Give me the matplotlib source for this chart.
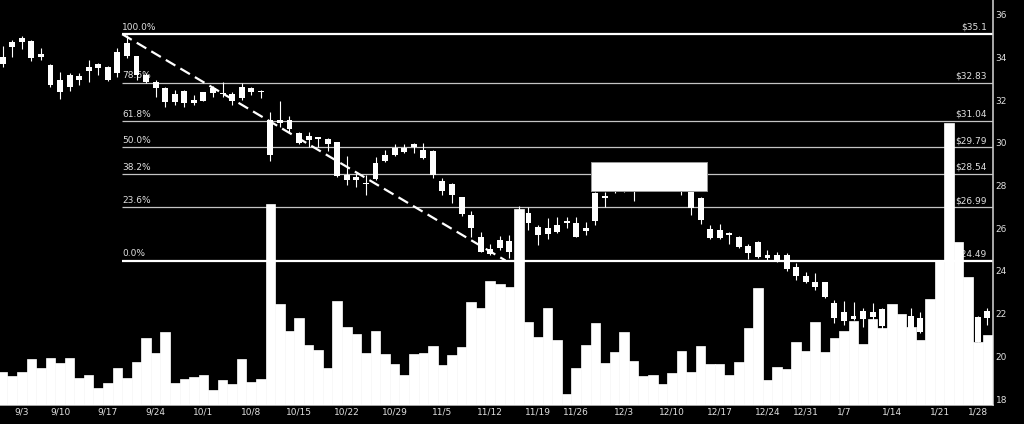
import numpy as np
import matplotlib
matplotlib.use("Agg")
import matplotlib.pyplot as plt
from matplotlib.patches import Rectangle

# ---------------- data ----------------
opens = [33.70, 34.49, 34.72, 34.78, 34.02, 33.66, 32.40, 32.64, 32.95, 33.37,
         33.50, 33.55, 33.27, 34.08, 34.08, 33.19, 32.87, 32.56, 31.91, 32.44,
         31.89, 31.97, 32.33, 32.30, 32.28, 32.10, 32.59, 32.44, 31.08, 30.92,
         30.64, 30.45, 30.14, 30.29, 30.17, 30.06, 28.50, 28.26, 28.11, 28.30,
         29.17, 29.44, 29.78, 29.80, 29.67, 29.64, 28.23, 28.08, 27.48, 26.62,
         25.58, 24.80, 25.06, 24.90, 25.30, 26.73, 26.05, 25.73, 25.84, 26.26,
         26.23, 25.87, 26.36, 27.51, 27.85, 28.30, 28.10, 28.40, 28.70, 28.50,
         28.20, 28.00, 27.75, 27.41, 25.97, 25.53, 25.77, 25.61, 25.18, 24.64,
         24.75, 24.51, 24.75, 24.17, 23.77, 23.50, 23.47, 22.51, 21.65, 21.90,
         21.73, 21.86, 22.20, 21.50, 21.90, 21.89, 21.78, 21.30, 21.60, 22.00,
         23.00, 22.40, 20.68, 21.78]
highs = [34.55, 34.83, 35.02, 34.83, 34.44, 33.69, 33.34, 33.27, 33.30, 33.89,
         33.76, 33.61, 34.44, 35.05, 34.08, 33.30, 32.95, 32.64, 32.48, 32.48,
         32.25, 32.40, 32.67, 32.85, 32.40, 32.83, 32.64, 32.48, 31.47, 31.97,
         31.27, 30.53, 30.53, 30.29, 30.22, 30.06, 29.39, 28.58, 28.50, 29.36,
         29.67, 29.95, 29.95, 30.01, 30.01, 29.67, 28.34, 28.11, 27.48, 26.83,
         25.84, 25.26, 25.64, 25.69, 27.05, 26.98, 26.16, 26.47, 26.52, 26.54,
         26.54, 26.31, 27.72, 27.72, 28.50, 28.80, 28.60, 29.00, 29.00, 28.90,
         28.60, 28.40, 28.00, 27.48, 26.16, 26.20, 25.84, 25.64, 25.26, 25.42,
         24.98, 24.90, 24.83, 24.36, 23.97, 23.89, 23.50, 22.64, 22.61, 22.56,
         22.25, 22.51, 22.25, 22.30, 21.95, 22.25, 22.09, 22.30, 23.50, 24.00,
         23.80, 23.00, 21.90, 22.28]
lows = [33.58, 34.05, 34.41, 33.86, 33.89, 32.61, 32.05, 32.44, 32.72, 32.87,
        33.19, 32.91, 33.11, 33.97, 32.95, 32.80, 32.17, 31.70, 31.78, 31.70,
        31.78, 31.97, 32.17, 32.17, 31.78, 32.02, 32.25, 32.10, 29.17, 30.76,
        30.45, 29.95, 29.83, 29.83, 29.64, 28.39, 28.03, 27.95, 27.56, 28.26,
        29.12, 29.39, 29.52, 29.52, 29.25, 28.34, 27.56, 27.17, 26.58, 25.61,
        24.88, 24.75, 24.98, 24.59, 24.49, 25.92, 25.22, 25.48, 25.79, 26.00,
        25.58, 25.69, 26.16, 26.98, 27.67, 27.69, 27.29, 27.90, 28.20, 28.00,
        27.85, 27.56, 26.62, 26.20, 25.48, 25.48, 25.26, 25.06, 24.55, 24.59,
        24.51, 24.43, 24.01, 23.58, 23.45, 23.11, 22.72, 21.57, 21.47, 21.70,
        21.36, 21.70, 21.20, 21.20, 21.30, 21.23, 21.08, 20.90, 21.00, 21.20,
        22.00, 21.30, 20.65, 21.47]
closes = [34.02, 34.72, 34.91, 33.97, 34.16, 32.72, 32.95, 33.19, 33.14, 33.58,
          33.69, 32.95, 34.28, 34.67, 33.19, 32.87, 32.56, 31.94, 32.28, 31.86,
          32.02, 32.38, 32.56, 32.33, 31.98, 32.61, 32.40, 32.39, 29.44, 31.08,
          31.08, 30.01, 30.34, 30.19, 29.95, 28.45, 28.26, 28.42, 28.06, 29.08,
          29.44, 29.78, 29.59, 29.95, 29.28, 28.50, 27.76, 27.56, 26.67, 26.03,
          24.88, 25.03, 25.45, 25.42, 26.80, 26.23, 25.69, 26.00, 26.16, 26.36,
          25.58, 26.03, 27.64, 27.43, 28.30, 28.10, 28.40, 28.70, 28.50, 28.20,
          28.00, 27.85, 26.94, 26.39, 25.53, 25.92, 25.69, 25.11, 24.83, 25.37,
          24.59, 24.75, 24.08, 23.77, 23.50, 23.26, 22.77, 21.78, 22.06, 21.73,
          22.14, 22.09, 21.40, 22.00, 21.50, 21.23, 21.12, 22.00, 22.50, 23.20,
          22.40, 21.60, 21.83, 22.12]
volume = [3.33, 2.9, 3.27, 4.6, 3.73, 4.67, 4.17, 4.67, 2.67, 3.0,
          1.67, 2.17, 3.73, 2.67, 4.27, 6.67, 5.23, 7.27, 2.17, 2.57,
          2.83, 3.0, 1.5, 2.47, 2.1, 4.6, 2.3, 2.63, 20.07, 10.07,
          7.37, 8.67, 6.0, 5.53, 3.67, 10.43, 7.83, 7.1, 5.17, 7.37,
          5.07, 4.07, 3.0, 5.07, 5.23, 5.93, 3.97, 5.0, 5.77, 10.27,
          9.67, 12.4, 12.1, 11.8, 19.6, 8.33, 6.8, 9.73, 6.5, 1.07,
          3.67, 6.0, 8.17, 4.17, 5.33, 7.27, 4.4, 2.87, 2.97, 2.07,
          3.23, 5.4, 3.33, 5.93, 4.1, 4.1, 3.0, 4.27, 7.67, 11.7,
          2.47, 3.8, 3.6, 6.27, 5.4, 8.33, 5.33, 6.73, 7.4, 8.4,
          6.07, 8.57, 7.67, 10.07, 9.13, 7.83, 6.5, 10.6, 14.5, 28.23,
          16.27, 12.83, 6.33, 7.0]

tick_idx = [2, 6, 11, 16, 21, 26, 31, 36, 41, 46, 51, 56, 60, 65, 70, 75, 80,
            84, 88, 93, 98, 102]
tick_labels = ["9/3", "9/10", "9/17", "9/24", "10/1", "10/8", "10/15", "10/22",
               "10/29", "11/5", "11/12", "11/19", "11/26", "12/3", "12/10",
               "12/17", "12/24", "12/31", "1/7", "1/14", "1/21", "1/28"]
price_ticks = [18, 20, 22, 24, 26, 28, 30, 32, 34, 36]

fib_pct = ["100.0%", "78.6%", "61.8%", "50.0%", "38.2%", "23.6%", "0.0%"]
fib_price = [35.10, 32.83, 31.04, 29.79, 28.54, 26.99, 24.49]
fib_label = ["$35.1", "$32.83", "$31.04", "$29.79", "$28.54", "$26.99", "$24.49"]

# trend line (swing high -> swing low) and highlight box
trend_x = [12.5, 52.6]
trend_y = [35.10, 24.49]
box_x = [61.54, 73.67]
box_y = [27.76, 29.10]

# ---------------- drawing ----------------
FONT = ["Liberation Sans Narrow", "DejaVu Sans"]
TXT = "#e0e0e0"

fig = plt.figure(figsize=(10.24, 4.24), dpi=100, facecolor="black")
ax = fig.add_axes([0, 19 / 424, 993 / 1024, 405 / 424])
ax.set_facecolor("black")
axv = ax.twinx()
ax.yaxis.tick_right()

n = len(opens)
x = np.arange(n)
o = np.array(opens); h = np.array(highs); l = np.array(lows); c = np.array(closes)

# fib levels
for i, (p, lab, rl) in enumerate(zip(fib_price, fib_pct, fib_label)):
    thick = i in (0, len(fib_price) - 1)
    ax.plot([trend_x[0], 104], [p, p], color="white" if thick else "#c4c4c4",
            lw=1.6 if thick else 0.9, zorder=1, solid_capstyle="butt")
    ax.annotate(lab, (trend_x[0], p), xytext=(0, 3), textcoords="offset points",
                ha="left", va="baseline", color=TXT, fontsize=6.5,
                family=FONT, zorder=1)
    ax.annotate(rl, (1.0, p), xycoords=("axes fraction", "data"),
                xytext=(-4.5, 3), textcoords="offset points",
                ha="right", va="baseline", color=TXT, fontsize=6.5,
                family=FONT, zorder=1)

# candles
ax.vlines(x, l, h, color="white", lw=0.8, zorder=3)
body_bot = np.minimum(o, c)
body_h = np.maximum(np.abs(c - o), 0.05)
ax.bar(x, body_h, bottom=body_bot, width=0.62, color="white", lw=0, zorder=3)

# trend line
ax.plot(trend_x, trend_y, color="white", lw=1.6, ls=(0, (5, 2.6)), zorder=4)

# highlight box
ax.add_patch(Rectangle((box_x[0], box_y[0]), box_x[1] - box_x[0],
                       box_y[1] - box_y[0], facecolor="white",
                       edgecolor="#9a9a9a", lw=0.7, zorder=5))

# volume (drawn above everything, white)
axv.bar(x, volume, width=1.0, color="white", edgecolor="white", lw=0.5)
axv.set_ylim(0, 40.5)
axv.set_yticks([])
for s in axv.spines.values():
    s.set_visible(False)

ax.set_xlim(-0.28, 103.59)
ax.set_ylim(17.72, 36.70)
for side in ("top", "left"):
    ax.spines[side].set_visible(False)
for side in ("right", "bottom"):
    ax.spines[side].set_color("#c8c8c8")
    ax.spines[side].set_linewidth(1.2)
ax.set_yticks(price_ticks)
ax.set_yticklabels([str(t) for t in price_ticks], family=FONT)
ax.set_xticks(tick_idx)
ax.set_xticklabels(tick_labels, family=FONT)
ax.tick_params(axis="y", length=0, pad=2, labelsize=6.5, colors=TXT,
               right=True, labelright=True, left=False, labelleft=False)
ax.tick_params(axis="x", length=0, pad=2, labelsize=6.5, colors=TXT)

fig.savefig("out.png", dpi=100, facecolor="black")
